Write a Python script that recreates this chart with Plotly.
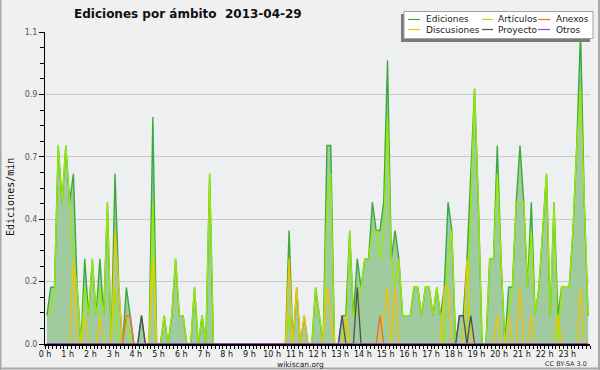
import plotly.graph_objects as go

# 10-minute bins over the day (bin centres, in hours)
bins_hours = [(i * 10 + 5) / 60 for i in range(144)]

ediciones = [
    0.1, 0.2, 0.2, 0.7, 0.5, 0.7, 0.5, 0.6, 0.2, 0.0,
    0.3, 0.1, 0.3, 0.1, 0.3, 0.1, 0.5, 0.0, 0.6, 0.2,
    0.0, 0.2, 0.1, 0.0, 0.0, 0.1, 0.0, 0.0, 0.8, 0.0,
    0.0, 0.1, 0.0, 0.1, 0.3, 0.1, 0.1, 0.0, 0.0, 0.2,
    0.0, 0.1, 0.0, 0.6, 0.0, 0.0, 0.0, 0.0, 0.0, 0.0,
    0.0, 0.0, 0.0, 0.0, 0.0, 0.0, 0.0, 0.0, 0.0, 0.0,
    0.0, 0.0, 0.0, 0.0, 0.4, 0.0, 0.2, 0.0, 0.1, 0.0,
    0.0, 0.2, 0.1, 0.0, 0.7, 0.7, 0.0, 0.0, 0.1, 0.1,
    0.4, 0.1, 0.3, 0.2, 0.3, 0.3, 0.5, 0.4, 0.4, 0.5,
    1.0, 0.3, 0.4, 0.3, 0.1, 0.1, 0.1, 0.2, 0.2, 0.1,
    0.2, 0.2, 0.1, 0.2, 0.1, 0.2, 0.5, 0.4, 0.0, 0.1,
    0.1, 0.3, 0.6, 0.9, 0.5, 0.0, 0.0, 0.3, 0.3, 0.7,
    0.3, 0.0, 0.2, 0.2, 0.5, 0.7, 0.5, 0.2, 0.5, 0.1,
    0.2, 0.4, 0.6, 0.1, 0.5, 0.1, 0.2, 0.2, 0.2, 0.4,
    0.7, 1.1, 0.5, 0.1,
]

articulos = [
    0.1, 0.1, 0.2, 0.7, 0.5, 0.7, 0.5, 0.3, 0.2, 0.0,
    0.2, 0.1, 0.3, 0.1, 0.2, 0.1, 0.5, 0.0, 0.2, 0.0,
    0.0, 0.1, 0.0, 0.0, 0.0, 0.0, 0.0, 0.0, 0.5, 0.0,
    0.0, 0.1, 0.0, 0.1, 0.3, 0.1, 0.1, 0.0, 0.0, 0.2,
    0.0, 0.1, 0.0, 0.6, 0.0, 0.0, 0.0, 0.0, 0.0, 0.0,
    0.0, 0.0, 0.0, 0.0, 0.0, 0.0, 0.0, 0.0, 0.0, 0.0,
    0.0, 0.0, 0.0, 0.0, 0.1, 0.0, 0.0, 0.0, 0.0, 0.0,
    0.0, 0.2, 0.1, 0.0, 0.5, 0.6, 0.0, 0.0, 0.0, 0.0,
    0.4, 0.1, 0.1, 0.2, 0.3, 0.3, 0.4, 0.4, 0.3, 0.4,
    0.8, 0.3, 0.2, 0.3, 0.1, 0.1, 0.1, 0.2, 0.2, 0.1,
    0.2, 0.2, 0.1, 0.2, 0.1, 0.0, 0.3, 0.4, 0.0, 0.0,
    0.0, 0.0, 0.5, 0.9, 0.5, 0.0, 0.0, 0.3, 0.3, 0.6,
    0.3, 0.0, 0.1, 0.2, 0.5, 0.5, 0.5, 0.2, 0.4, 0.1,
    0.2, 0.4, 0.6, 0.1, 0.5, 0.0, 0.2, 0.2, 0.2, 0.4,
    0.7, 0.9, 0.5, 0.1,
]

discusiones = [0.0] * 144
for idx, val in [(7, 0.3), (10, 0.1), (14, 0.1), (18, 0.4), (19, 0.2), (28, 0.3),
                 (64, 0.3), (66, 0.2), (68, 0.1), (74, 0.2), (75, 0.1), (79, 0.1),
                 (89, 0.1), (90, 0.2), (92, 0.2), (105, 0.2), (106, 0.2), (111, 0.3),
                 (119, 0.1), (122, 0.1), (125, 0.2), (128, 0.1), (135, 0.1), (141, 0.2)]:
    discusiones[idx] = val

proyecto = [0.0] * 144
for idx, val in [(25, 0.1), (78, 0.1), (82, 0.2), (109, 0.1), (110, 0.1), (112, 0.1)]:
    proyecto[idx] = val

anexos = [0.0] * 144
for idx, val in [(21, 0.1), (22, 0.1), (88, 0.1)]:
    anexos[idx] = val

otros = [0.0] * 144

hour_ticks = list(range(24))
hour_labels = [f"{h} h" for h in hour_ticks]
y_tickvals = [0, 0.22, 0.44, 0.66, 0.88, 1.1]
y_ticktext = ["0.0", "0.2", "0.4", "0.7", "0.9", "1.1"]

series_names = ["Ediciones", "Artículos", "Anexos", "Discusiones", "Proyecto", "Otros"]
series_colors = ["#3aaa3a", "#99ea00", "#f26a30", "#f5c400", "#505050", "#9b40e8"]

C_ED, C_AR, C_AN, C_DI, C_PR, C_OT = series_colors

fig = go.Figure()
fig.add_trace(go.Scatter(x=bins_hours, y=ediciones, name="Ediciones", mode="lines",
                         line=dict(color=C_ED, width=1.4), fill="tozeroy",
                         fillcolor="#9fcb9f"))
fig.add_trace(go.Scatter(x=bins_hours, y=articulos, name="Artículos", mode="lines",
                         line=dict(color=C_AR, width=1.3)))
fig.add_trace(go.Scatter(x=bins_hours, y=discusiones, name="Discusiones", mode="lines",
                         line=dict(color=C_DI, width=1.3)))
fig.add_trace(go.Scatter(x=bins_hours, y=anexos, name="Anexos", mode="lines",
                         line=dict(color=C_AN, width=1.3)))
fig.add_trace(go.Scatter(x=bins_hours, y=proyecto, name="Proyecto", mode="lines",
                         line=dict(color=C_PR, width=1.3)))
fig.add_trace(go.Scatter(x=bins_hours, y=otros, name="Otros", mode="lines",
                         line=dict(color=C_OT, width=1.3), visible=True))

# layout geometry helpers (pixel -> paper)
L, R, T, B = 45, 10, 32, 26
W, H = 600, 370
PW, PH = W - L - R, H - T - B


def px(x):
    return (x - L) / PW


def py(y):
    return (H - B - y) / PH


shapes = []
# outer frame (left, right, bottom)
for (x0, y0, x1, y1) in [(0.5, 0, 0.5, 370), (599, 0, 599, 370), (0, 368.5, 600, 368.5)]:
    shapes.append(dict(type="line", xref="paper", yref="paper", x0=px(x0), y0=py(y0),
                       x1=px(x1), y1=py(y1), line=dict(color="#a8a8a8", width=2), layer="above"))
# legend shadow + box
shapes.append(dict(type="rect", xref="paper", yref="paper", x0=px(401), y0=py(42),
                   x1=px(590), y1=py(14), fillcolor="#7a7a7a", line=dict(width=0), layer="above"))
shapes.append(dict(type="rect", xref="paper", yref="paper", x0=px(404), y0=py(38.5),
                   x1=px(593), y1=py(11.5), fillcolor="#ffffff",
                   line=dict(color="#a0a0a0", width=1), layer="above"))

annotations = []
cols = [(408, 420, 424), (482, 493, 496), (538, 550, 554)]
rows = [19.5, 29.5]
order = [(0, 0, "Ediciones", C_ED), (0, 1, "Artículos", C_AR), (0, 2, "Anexos", C_AN),
         (1, 0, "Discusiones", C_DI), (1, 1, "Proyecto", C_PR), (1, 2, "Otros", C_OT)]
for r, c, name, col in order:
    lx0, lx1, tx = cols[c]
    yy = rows[r]
    shapes.append(dict(type="line", xref="paper", yref="paper", x0=px(lx0), x1=px(lx1),
                       y0=py(yy), y1=py(yy), line=dict(color=col, width=1.2), layer="above"))
    annotations.append(dict(text=name, xref="paper", yref="paper", x=px(tx), y=py(yy),
                            xanchor="left", yanchor="middle", showarrow=False,
                            font=dict(family="DejaVu Sans", size=9, color="#222")))

annotations.append(dict(text="Ediciones por ámbito \u00a02013-04-29", xref="paper", yref="paper",
                        x=px(188), y=py(14), xanchor="center", yanchor="middle", showarrow=False,
                        font=dict(family="DejaVu Sans", size=12, color="#111", weight="bold")))
annotations.append(dict(text="Ediciones/min", xref="paper", yref="paper", x=px(10), y=py(197),
                        xanchor="center", yanchor="middle", textangle=-90, showarrow=False,
                        font=dict(family="DejaVu Sans Mono", size=10, color="#111")))
annotations.append(dict(text="wikiscan.org", xref="paper", yref="paper", x=px(300), y=py(364.5),
                        xanchor="center", yanchor="middle", showarrow=False,
                        font=dict(family="DejaVu Sans", size=7.5, color="#222")))
annotations.append(dict(text="CC BY-SA 3.0", xref="paper", yref="paper", x=px(589), y=py(364),
                        xanchor="right", yanchor="middle", showarrow=False,
                        font=dict(family="DejaVu Sans", size=6.5, color="#333")))

fig.update_layout(
    width=W, height=H, margin=dict(l=L, r=R, t=T, b=B, pad=0),
    paper_bgcolor="#f0f0f0", plot_bgcolor="#eeeff1",
    showlegend=False, shapes=shapes, annotations=annotations,
    font=dict(family="DejaVu Sans", size=9, color="#111"),
)
fig.update_xaxes(range=[0, 24], tickvals=hour_ticks, ticktext=hour_labels,
                 ticks="outside", ticklen=2, tickcolor="#000", showgrid=False,
                 showline=True, linecolor="#000", linewidth=1.5, zeroline=False,
                 tickfont=dict(family="DejaVu Sans", size=8, color="#111"),
                 minor=dict(dtick=1 / 6, ticks="outside", ticklen=3, tickcolor="#000", showgrid=False))
fig.update_yaxes(range=[0, 1.1], tickvals=y_tickvals, ticktext=y_ticktext,
                 ticks="outside", ticklen=5, tickcolor="#000", showgrid=True,
                 gridcolor="#c9c9c9", gridwidth=1, showline=True, linecolor="#000",
                 linewidth=1, zeroline=False,
                 tickfont=dict(family="DejaVu Sans", size=8, color="#555"),
                 minor=dict(dtick=0.055, ticks="outside", ticklen=4, tickcolor="#000", showgrid=False))

fig.write_html("out.html", config={"displayModeBar": False},
               post_script="document.body.style.margin='0';document.body.style.padding='0';")
